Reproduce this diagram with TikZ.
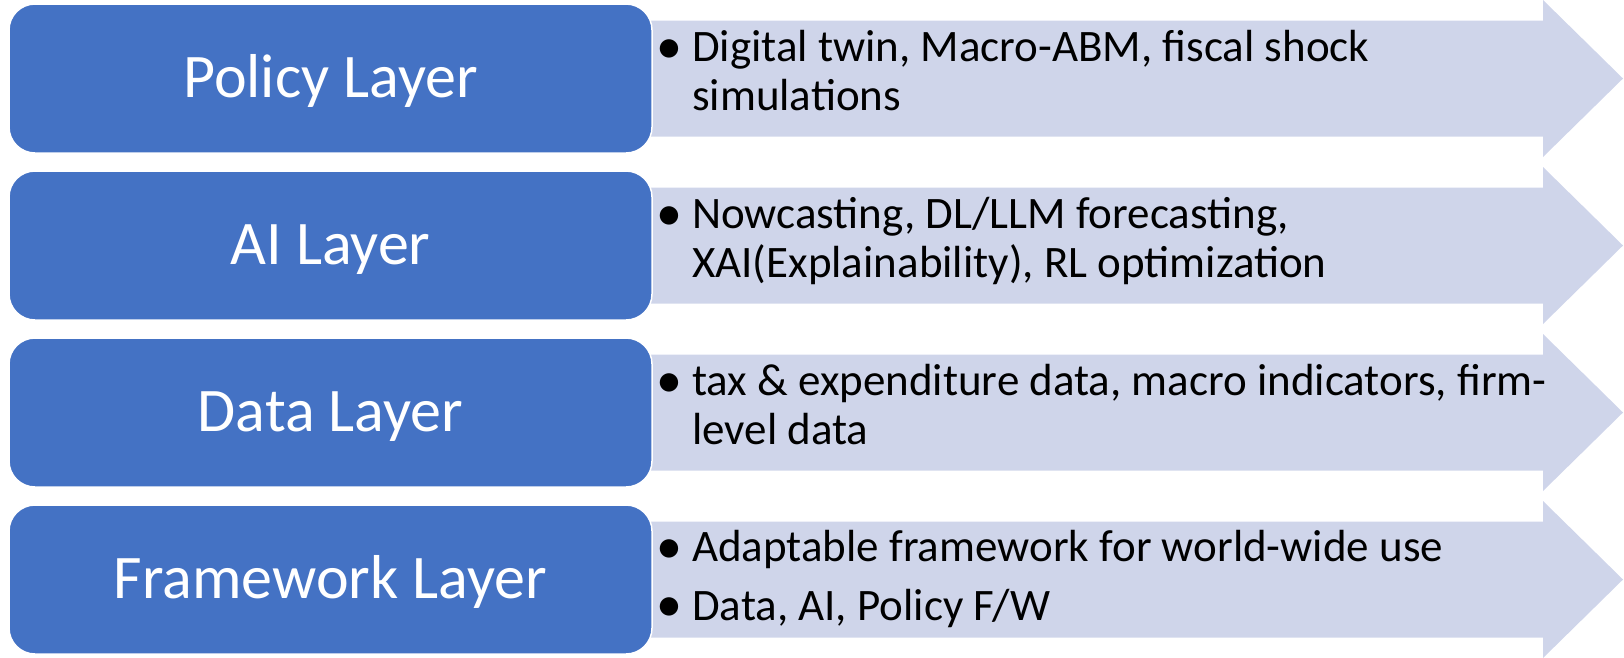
\documentclass[tikz,border=0pt]{standalone}
\usepackage{fontspec}
\setmainfont{Carlito}
\definecolor{layerblue}{HTML}{4472C4}
\definecolor{arrowtint}{HTML}{CFD5EA}
\begin{document}
\begin{tikzpicture}[x=1pt,y=-1pt,
  layerbox/.style={draw=white, line width=1.5pt, fill=layerblue,
    rounded corners=26pt, minimum width=643pt, minimum height=149pt,
    inner sep=0pt},
  layertitle/.style={anchor=base, text=white, inner sep=0pt,
    font=\fontsize{62}{74}\selectfont},
  bulletmark/.style={anchor=base west, inner sep=0pt,
    font=\fontsize{52}{60}\selectfont},
  bullettext/.style={anchor=base west, inner sep=0pt,
    font=\fontsize{45}{54}\selectfont},
  flowarrow/.style={fill=arrowtint}
  ]
\useasboundingbox (0,0) rectangle (1624,657);

% wide block arrows behind the layer boxes
\foreach \cy in {78.5,245.5,412.5,579.5}{
  \path[flowarrow] (640,\cy-58) -- (1543,\cy-58) -- (1543,\cy-78.5)
    -- (1623,\cy) -- (1543,\cy+78.5) -- (1543,\cy+58) -- (640,\cy+58) -- cycle;
}

% layer boxes
\node[layerbox] (policy)    at (330.5,78.5)  {};
\node[layerbox] (ai)        at (330.5,245.5) {};
\node[layerbox] (data)      at (330.5,412.5) {};
\node[layerbox] (framework) at (330.5,579.5) {};

\node[layertitle] (policyT)    at (330.5,97)  {Policy Layer};
\node[layertitle] (aiT)        at (330.5,264) {AI Layer};
\node[layertitle] (dataT)      at (330.5,431) {Data Layer};
\node[layertitle] (frameworkT) at (330.5,598) {Framework Layer};

% policy layer contents
\node[bulletmark] (pb1) at (656,63) {•};
\node[bullettext] (pt1) at (692,61.7) {Digital twin, Macro-ABM, fiscal shock};
\node[bullettext] (pt2) at (692,110.7) {simulations};

% AI layer contents
\node[bulletmark] (ab1) at (656,230) {•};
\node[bullettext] (at1) at (692,228.7) {Nowcasting, DL/LLM forecasting,};
\node[bullettext] (at2) at (692,277.7) {XAI(Explainability), RL optimization};

% data layer contents
\node[bulletmark] (db1) at (656,397) {•};
\node[bullettext] (dt1) at (692,395.7) {tax \& expenditure data, macro indicators, firm-};
\node[bullettext] (dt2) at (692,444.7) {level data};

% framework layer contents
\node[bulletmark] (fb1) at (656,563) {•};
\node[bullettext] (ft1) at (692,561.7) {Adaptable framework for world-wide use};
\node[bulletmark] (fb2) at (656,621.3) {•};
\node[bullettext] (ft2) at (692,620) {Data, AI, Policy F/W};
\end{tikzpicture}
\end{document}
